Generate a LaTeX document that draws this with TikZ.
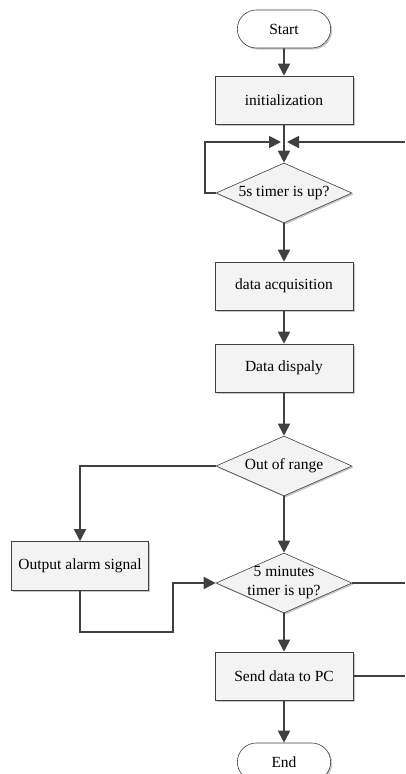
\documentclass[tikz,border=0pt]{standalone}
\usepackage{fontspec}
\setmainfont{Liberation Serif}
\usetikzlibrary{shapes.geometric,shapes.misc,shadows,arrows.meta}
\definecolor{linegray}{HTML}{404040}
\definecolor{boxfill}{HTML}{F3F3F3}

\begin{document}
\begin{tikzpicture}[x=1pt,y=-1pt,font=\fontsize{15.5}{19}\selectfont,
    every node/.style={draw=linegray,line width=0.6pt,fill=boxfill,
      drop shadow={shadow xshift=1.5pt,shadow yshift=-1.5pt,fill=gray!45,opacity=1}},
    term/.style={rounded rectangle,minimum width=100pt,minimum height=38pt,fill=white},
    proc/.style={rectangle,minimum width=138pt,minimum height=48pt},
    cond/.style={diamond,aspect=2.27,inner sep=0pt,minimum width=136pt,minimum height=60pt,align=center},
    flow/.style={draw=linegray,line width=1.8pt,-{Triangle[length=12pt,width=12pt]}},
    link/.style={draw=linegray,line width=1.8pt}]
  \useasboundingbox (0,0) rectangle (405,774);

  %main column
  \node[term] (start) at (284,29) {Start};
  \node[proc] (init) at (284,100) {initialization};
  \node[cond] (tmr) at (284,193) {5s timer is up?};
  \node[proc] (acq) at (284,286) {data acquisition};
  \node[proc] (disp) at (284,368) {Data dispaly};
  \node[cond] (range) at (284,466) {Out of range};
  \node[cond,inner sep=-3pt] (mins) at (284,583) {5 minutes\\timer is up?};
  \node[proc] (send) at (284,676) {Send data to PC};
  \node[term] (stop) at (284,762) {End};
  %alarm branch
  \node[proc,minimum width=137pt,minimum height=49pt] (alarm) at (80,566) {Output alarm signal};

  \coordinate (join) at (284,142);
  \coordinate (back) at (405,142);
  \coordinate (minsout) at (405,583);
  \coordinate (sendout) at (405,676);

  \draw[flow] (start) -- (init);
  \draw[link] (init) -- (join);
  \draw[flow] (join) -- (tmr);
  \draw[flow,shorten >=3pt] (tmr.west) -- (205,193) -- (205,142) -- (join);
  \draw[flow,shorten >=3pt] (back) -- (join);
  \draw[flow] (tmr) -- (acq);
  \draw[flow] (acq) -- (disp);
  \draw[flow] (disp) -- (range);
  \draw[flow] (range.west) -| (alarm.north);
  \draw[flow] (range) -- (mins);
  \draw[flow] (alarm.south) -- (80,632) -- (173,632) -- (173,583) -- (mins.west);
  \draw[link] (mins.east) -- (minsout);
  \draw[flow] (mins) -- (send);
  \draw[link] (send.east) -- (sendout);
  \draw[flow] (send) -- (stop);
\end{tikzpicture}
\end{document}
